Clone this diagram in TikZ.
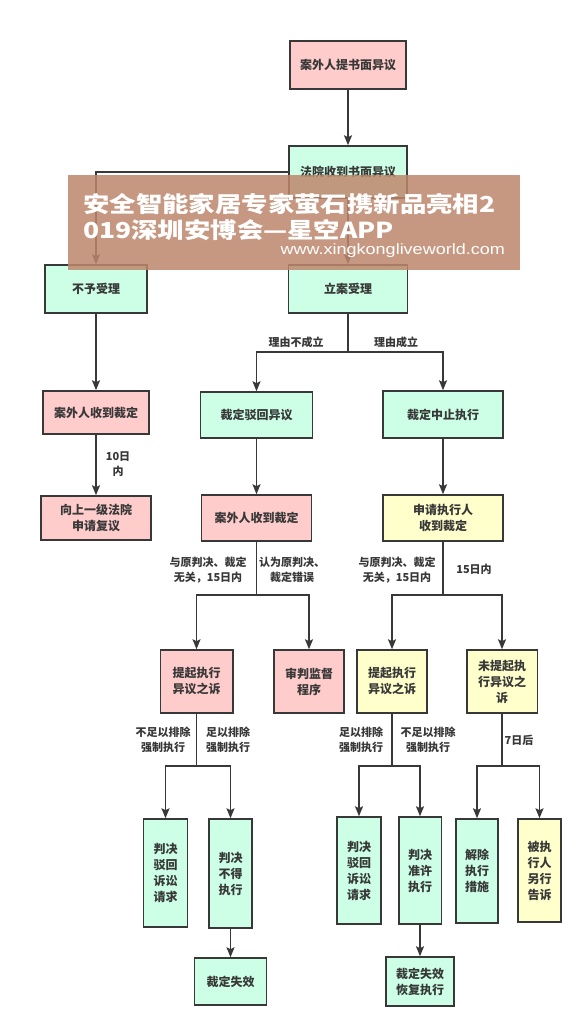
\documentclass[tikz,border=0pt]{standalone}
\usepackage{fontspec}
\setmainfont{Noto Sans CJK SC}
\newfontfamily\urlfont{Liberation Sans}
\usetikzlibrary{positioning, arrows.meta}

\definecolor{pinkfill}{HTML}{FFCCCC}
\definecolor{mintfill}{HTML}{CCFFE6}
\definecolor{yellowfill}{HTML}{FFFFCC}
\definecolor{darkline}{HTML}{383838}
\definecolor{bannerbrown}{RGB}{190,135,108}

\tikzset{
    box/.style={draw=darkline, line width=1.5pt, text=darkline, align=center, inner sep=1pt,
        font=\fontsize{12}{16}\selectfont\bfseries},
    pinkbox/.style={box, fill=pinkfill},
    mintbox/.style={box, fill=mintfill},
    yellowbox/.style={box, fill=yellowfill},
    size/.style 2 args={minimum width=#1pt, minimum height=#2pt},
    arr/.style={draw=darkline, line width=1.6pt, -{Stealth[length=10pt,width=8pt,inset=2pt]}},
    link/.style={draw=darkline, line width=1.6pt},
    lbl/.style={text=darkline, align=center, inner sep=0pt,
        font=\fontsize{11}{15}\selectfont\bfseries},
}

\begin{document}
\begin{tikzpicture}[x=1pt, y=-1pt]
    \useasboundingbox[fill=white] (0,0) rectangle (588,1033);

    % Top
    \node[pinkbox, size={116}{48}] (objection) at (348,65) {案外人提书面异议};
    \node[mintbox, size={118}{52}] (received) at (348,172) {法院收到书面异议};
    \node[mintbox, size={102}{48}] (refuse) at (96,289) {不予受理};
    \node[mintbox, size={119}{48}] (accept) at (348,289) {立案受理};

    \draw[arr] (objection) -- (received);
    \draw[arr] (received) -- (accept);
    \draw[arr] (received.west) -| (refuse.north);

    % Left column
    \node[pinkbox, size={106}{43}] (gotleft) at (96,412.5) {案外人收到裁定};
    \node[pinkbox, size={110}{44}] (appeal) at (96,518) {向上一级法院\\申请复议};
    \draw[arr] (refuse) -- (gotleft);
    \draw[arr] (gotleft) -- (appeal);
    \node[lbl] (tendays) at (118,464.5) {10日\\内};

    % Reasons
    \node[mintbox, size={112}{46}] (reject) at (256.5,415) {裁定驳回异议};
    \node[mintbox, size={120}{47}] (suspend) at (443,414.5) {裁定中止执行};
    \coordinate (jtop) at (348,352);
    \draw[link] (accept) -- (jtop);
    \draw[arr] (jtop) -| (reject.north);
    \draw[arr] (jtop) -| (suspend.north);
    \node[lbl] (nogrounds) at (296,342) {理由不成立};
    \node[lbl] (grounds) at (396,342) {理由成立};

    \node[pinkbox, size={110}{46}] (gotmid) at (256.5,518) {案外人收到裁定};
    \node[yellowbox, size={120}{46}] (gotright) at (443,518) {申请执行人\\收到裁定};
    \draw[arr] (reject) -- (gotmid);
    \draw[arr] (suspend) -- (gotright);

    % Second branching
    \node[pinkbox, size={72.5}{63}] (suitpink) at (196.5,681.5) {提起执行\\异议之诉};
    \node[pinkbox, size={70}{63}] (retrial) at (309,681.5) {审判监督\\程序};
    \node[yellowbox, size={70}{63}] (suityellow) at (392,681.5) {提起执行\\异议之诉};
    \node[yellowbox, size={70.5}{63}] (nosuit) at (502,681.5) {未提起执\\行异议之\\诉};

    \coordinate (jmid) at (256.5,595);
    \coordinate (jright) at (443,595);
    \draw[link] (gotmid) -- (jmid);
    \draw[link] (gotright) -- (jright);
    \foreach \c in {suitpink, retrial} {
        \draw[arr] (jmid) -| (\c.north);
    }
    \foreach \c in {suityellow, nosuit} {
        \draw[arr] (jright) -| (\c.north);
    }
    \node[lbl] (unrelmid) at (208,570) {与原判决、裁定\\无关，15日内};
    \node[lbl] (wrong) at (292,570) {认为原判决、\\裁定错误};
    \node[lbl] (unrelright) at (397,570) {与原判决、裁定\\无关，15日内};
    \node[lbl] (fifteen) at (474,569) {15日内};

    % Bottom row
    \node[mintbox, size={44}{108}] (dismissl) at (165.5,873) {判决\\驳回\\诉讼\\请求};
    \node[mintbox, size={43}{109}] (barred) at (230.5,873.5) {判决\\不得\\执行};
    \node[mintbox, size={44}{107}] (dismissr) at (359,870.5) {判决\\驳回\\诉讼\\请求};
    \node[mintbox, size={42.5}{107}] (allowed) at (420,870.5) {判决\\准许\\执行};
    \node[mintbox, size={42}{104}] (lift) at (477,871) {解除\\执行\\措施};
    \node[yellowbox, size={43}{103}] (sue) at (539.5,870.5) {被执\\行人\\另行\\告诉};

    \coordinate (jpink) at (196.5,766);
    \coordinate (jyellow) at (392,766);
    \coordinate (jnosuit) at (502,766);
    \draw[link] (suitpink) -- (jpink);
    \draw[link] (suityellow) -- (jyellow);
    \draw[link] (nosuit) -- (jnosuit);
    \foreach \c in {dismissl, barred} {
        \draw[arr] (jpink) -| (\c.north);
    }
    \foreach \c in {dismissr, allowed} {
        \draw[arr] (jyellow) -| (\c.north);
    }
    \foreach \c in {lift, sue} {
        \draw[arr] (jnosuit) -| (\c.north);
    }
    \node[lbl] (notenoughl) at (163,740) {不足以排除\\强制执行};
    \node[lbl] (enoughl) at (228,740) {足以排除\\强制执行};
    \node[lbl] (enoughr) at (361,740) {足以排除\\强制执行};
    \node[lbl] (notenoughr) at (428,740) {不足以排除\\强制执行};
    \node[lbl] (sevendays) at (519,740) {7日后};

    \node[mintbox, size={72}{47}] (lapse) at (230.5,981.5) {裁定失效};
    \node[mintbox, size={68}{49}] (resume) at (420,981.5) {裁定失效\\恢复执行};
    \draw[arr] (barred) -- (lapse);
    \draw[arr] (allowed) -- (resume);

    % Banner on top
    \fill[bannerbrown, opacity=0.85] (68,175) rectangle (520,270);
    \node[anchor=west, inner sep=0pt, text=white, font=\fontsize{22}{26}\selectfont\bfseries]
        (bannerone) at (83,204) {\scalebox{1.2}[1]{安全智能家居专家萤石携新品亮相2}};
    \node[anchor=west, inner sep=0pt, text=white, font=\fontsize{22}{26}\selectfont\bfseries]
        (bannertwo) at (83,230) {\scalebox{1.2}[1]{019深圳安博会—星空APP}};
    \node[anchor=east, inner sep=0pt, text=white, font=\urlfont\fontsize{15}{18}\selectfont]
        (bannerurl) at (505,251) {\scalebox{1.2}[1]{www.xingkongliveworld.com}};
\end{tikzpicture}
\end{document}
